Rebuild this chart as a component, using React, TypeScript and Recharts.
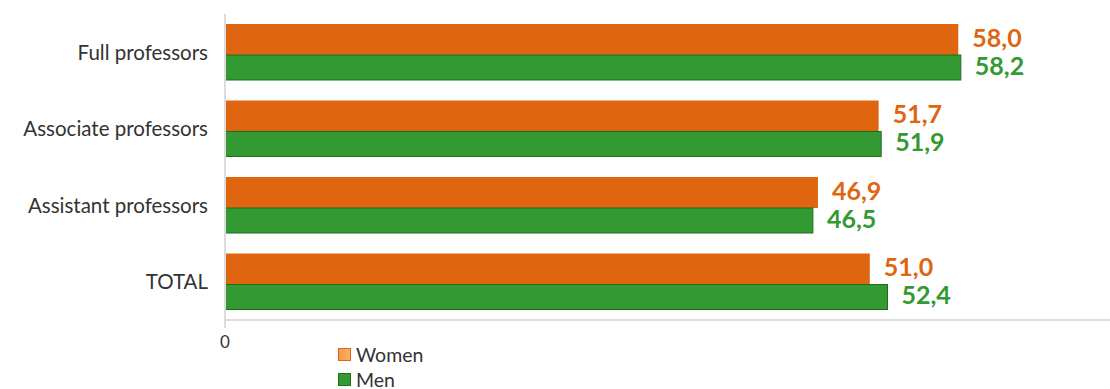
import { BarChart, Bar, XAxis, YAxis, Legend, LabelList } from 'recharts';

const categories = ['Full professors', 'Associate professors', 'Assistant professors', 'TOTAL'];
const women = [58.0, 51.7, 46.9, 51.0];
const men = [58.2, 51.9, 46.5, 52.4];

const data = categories.map((name, i) => ({ name, women: women[i], men: men[i] }));

const FONT = 'Lato, "Noto Sans", sans-serif';
const ORANGE = '#E06511';
const GREEN = '#339933';

const fmt = (v: number) => v.toFixed(1).replace('.', ',');

// orange sits a touch taller than the green bar in the original
const WomenShape = (p: any) => (
  <rect x={p.x} y={p.y} width={p.width} height={p.height + 3} fill={ORANGE} />
);
const MenShape = (p: any) => (
  <rect
    x={p.x}
    y={p.y + 3}
    width={p.width}
    height={p.height - 3}
    fill={GREEN}
    stroke="#1E6E1E"
    strokeWidth={1}
  />
);

const LegendBox = () => (
  <div style={{ fontFamily: FONT, fontSize: 19.5, color: '#333', lineHeight: '25px' }}>
    <div style={{ display: 'flex', alignItems: 'center' }}>
      <span
        style={{
          width: 11,
          height: 11,
          background: 'linear-gradient(90deg, #F49A45, #F7B16A)',
          border: '1px solid #E06511',
          marginRight: 5,
        }}
      />
      Women
    </div>
    <div style={{ display: 'flex', alignItems: 'center' }}>
      <span
        style={{ width: 11, height: 11, background: GREEN, border: '1px solid #1E6E1E', marginRight: 5 }}
      />
      Men
    </div>
  </div>
);

export default function App() {
  return (
    <div style={{ position: 'absolute', left: 0, top: 0, background: '#fff' }}>
      <BarChart
        width={1110}
        height={389}
        data={data}
        layout="vertical"
        margin={{ top: 14, right: 0, bottom: 39, left: 0 }}
        barCategoryGap={10}
        barGap={0}
      >
        <XAxis
          type="number"
          domain={[0, 70]}
          ticks={[0]}
          height={30}
          axisLine={{ stroke: '#dcdcdc', strokeWidth: 2 }}
          tickLine={{ stroke: '#dcdcdc', strokeWidth: 2 }}
          tickSize={8}
          tickMargin={8}
          tick={{ fill: '#333', fontSize: 17, fontFamily: FONT }}
        />
        <YAxis
          type="category"
          dataKey="name"
          width={225}
          axisLine={{ stroke: '#dcdcdc', strokeWidth: 2 }}
          tickLine={false}
          tickMargin={11}
          tick={{ fill: '#333', fontSize: 20.5, fontFamily: FONT }}
        />
        <Legend
          layout="vertical"
          align="center"
          verticalAlign="middle"
          wrapperStyle={{ left: 338, top: 342, width: 'auto' }}
          content={() => <LegendBox />}
        />
        <Bar dataKey="women" fill={ORANGE} shape={WomenShape} isAnimationActive={false}>
          <LabelList
            dataKey="women"
            position="right"
            offset={14}
            formatter={(v: any) => fmt(Number(v))}
            style={{ fill: ORANGE, fontSize: 25, fontWeight: 700, fontFamily: FONT }}
          />
        </Bar>
        <Bar dataKey="men" fill={GREEN} shape={MenShape} isAnimationActive={false}>
          <LabelList
            dataKey="men"
            position="right"
            offset={14}
            formatter={(v: any) => fmt(Number(v))}
            style={{ fill: GREEN, fontSize: 25, fontWeight: 700, fontFamily: FONT }}
          />
        </Bar>
      </BarChart>
    </div>
  );
}
